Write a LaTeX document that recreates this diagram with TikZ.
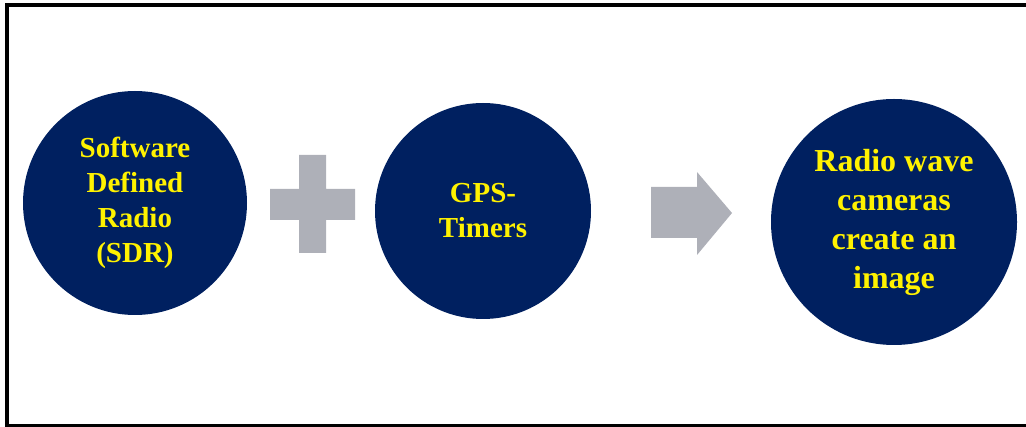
\documentclass[tikz,border=0pt]{standalone}
\usepackage{fontspec}
\setmainfont{Liberation Serif}
\usepackage{tikz}
\definecolor{navy}{RGB}{0,32,96}
\definecolor{signgray}{RGB}{174,176,184}

\begin{document}
\begin{tikzpicture}[x=1pt,y=-1pt,
    bubble/.style={circle,fill=navy,inner sep=0pt,text=yellow,align=center,font=\bfseries\fontsize{29}{35}\selectfont},
    sign/.style={fill=signgray,draw=none}]
    \useasboundingbox (0,0) rectangle (1026,427);

    % Frame (open on the right)
    \draw[line width=3.5pt] (1026,5) -- (7,5) -- (7,425.5) -- (1026,425.5);

    % SDR
    \node[bubble,minimum size=224pt] (sdr) at (135,203) {Software\\Defined\\Radio\\(SDR)};

    % Plus
    \fill[sign] (299,155) -- (326,155) -- (326,189) -- (355,189) -- (355,220) -- (326,220)
        -- (326,253) -- (299,253) -- (299,220) -- (270,220) -- (270,189) -- (299,189) -- cycle;

    % GPS timers
    \node[bubble,minimum size=216pt] (gps) at (483,211) {GPS-\\Timers};

    % Arrow
    \fill[sign] (651,187) -- (697,187) -- (697,172) -- (732,213) -- (697,255) -- (697,238) -- (651,238) -- cycle;

    % Result
    \node[bubble,minimum size=246pt,font=\bfseries\fontsize{32}{39}\selectfont] (camera) at (894,222) {Radio wave\\cameras\\create an\\image};
\end{tikzpicture}
\end{document}
